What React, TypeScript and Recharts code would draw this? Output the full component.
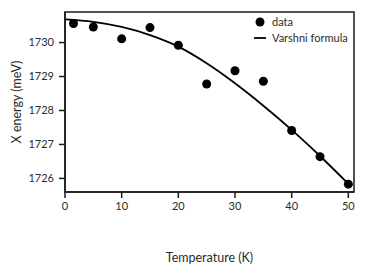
import React from 'react';
import { ComposedChart, Line, Scatter, XAxis, YAxis, Legend, ReferenceArea } from 'recharts';

// measured points
const measTemp = [1.5, 5, 10, 15, 20, 25, 30, 35, 40, 45, 50];
const measEnergy = [1730.56, 1730.46, 1730.11, 1730.44, 1729.92, 1728.78, 1729.17, 1728.86, 1727.41, 1726.64, 1725.83];

// fitted curve
const fitTemp = [0, 5, 10, 15, 20, 25, 30, 35, 40, 45, 50];
const fitEnergy = [1730.68, 1730.61, 1730.46, 1730.22, 1729.88, 1729.39, 1728.8, 1728.14, 1727.43, 1726.66, 1725.84];

const xTicks = [0, 10, 20, 30, 40, 50];
const yTicks = [1726, 1727, 1728, 1729, 1730];
const xDomain = [0, 51];
const yDomain = [1725.6, 1730.9];

const FONT = 'Lato, "Open Sans", sans-serif';
const INK = '#1a1a1a';
const TEXT = '#2b2b2b';

const scatterData = measTemp.map((t, i) => ({ t, e: measEnergy[i] }));
const fitData = fitTemp.map((t, i) => ({ t, e: fitEnergy[i] }));

const Dot = (props: any) => {
  const { cx, cy } = props;
  if (cx == null || cy == null) return null;
  return <circle cx={cx} cy={cy} r={4.5} fill="#000" />;
};

const LegendBox = () => (
  <div style={{ fontFamily: FONT, fontSize: 11, color: TEXT, lineHeight: '16px' }}>
    <div style={{ display: 'flex', alignItems: 'center' }}>
      <svg width={18} height={16}>
        <circle cx={6} cy={8} r={4.5} fill="#000" />
      </svg>
      <span>data</span>
    </div>
    <div style={{ display: 'flex', alignItems: 'center' }}>
      <svg width={18} height={16}>
        <line x1={0} y1={8} x2={12} y2={8} stroke="#000" strokeWidth={1.8} />
      </svg>
      <span>Varshni formula</span>
    </div>
  </div>
);

const App: React.FC = () => {
  const tickStyle = { fontFamily: FONT, fontSize: 11, fill: TEXT };
  return (
    <div style={{ position: 'absolute', left: 0, top: 0, background: '#fff' }}>
      <ComposedChart width={367} height={276} margin={{ top: 12, right: 13, left: 0, bottom: 0 }}>
        <XAxis
          xAxisId="b"
          dataKey="t"
          type="number"
          domain={xDomain}
          ticks={xTicks}
          allowDataOverflow
          height={52}
          tickSize={6}
          tickMargin={4}
          tick={tickStyle}
          stroke={INK}
          strokeWidth={1.5}
          tickLine={{ stroke: INK, strokeWidth: 1.5 }}
          label={{ value: 'Temperature (K)', position: 'bottom', offset: 9, style: { fontFamily: FONT, fontSize: 12.5, fill: TEXT } }}
        />
        <YAxis
          yAxisId="l"
          type="number"
          domain={yDomain}
          ticks={yTicks}
          allowDataOverflow
          width={65}
          tickSize={6}
          tickMargin={5}
          tick={tickStyle}
          stroke={INK}
          strokeWidth={1.5}
          tickLine={{ stroke: INK, strokeWidth: 1.5 }}
          label={{ value: 'X energy (meV)', angle: -90, position: 'insideLeft', offset: 17, style: { fontFamily: FONT, fontSize: 12.5, fill: TEXT, textAnchor: 'middle' } }}
        />
        {/* frame around the plot */}
        <ReferenceArea
          xAxisId="b"
          yAxisId="l"
          x1={xDomain[0]}
          x2={xDomain[1]}
          y1={yDomain[0]}
          y2={yDomain[1]}
          fill="none"
          stroke={INK}
          strokeWidth={1.5}
        />
        <Legend
          content={<LegendBox />}
          wrapperStyle={{ position: 'absolute', left: 254, top: 14, width: 100 }}
        />
        <Line
          xAxisId="b"
          yAxisId="l"
          data={fitData}
          dataKey="e"
          type="monotone"
          stroke="#000"
          strokeWidth={1.8}
          dot={false}
          isAnimationActive={false}
        />
        <Scatter
          xAxisId="b"
          yAxisId="l"
          data={scatterData}
          dataKey="e"
          shape={<Dot />}
          isAnimationActive={false}
        />
      </ComposedChart>
    </div>
  );
};

export default App;
